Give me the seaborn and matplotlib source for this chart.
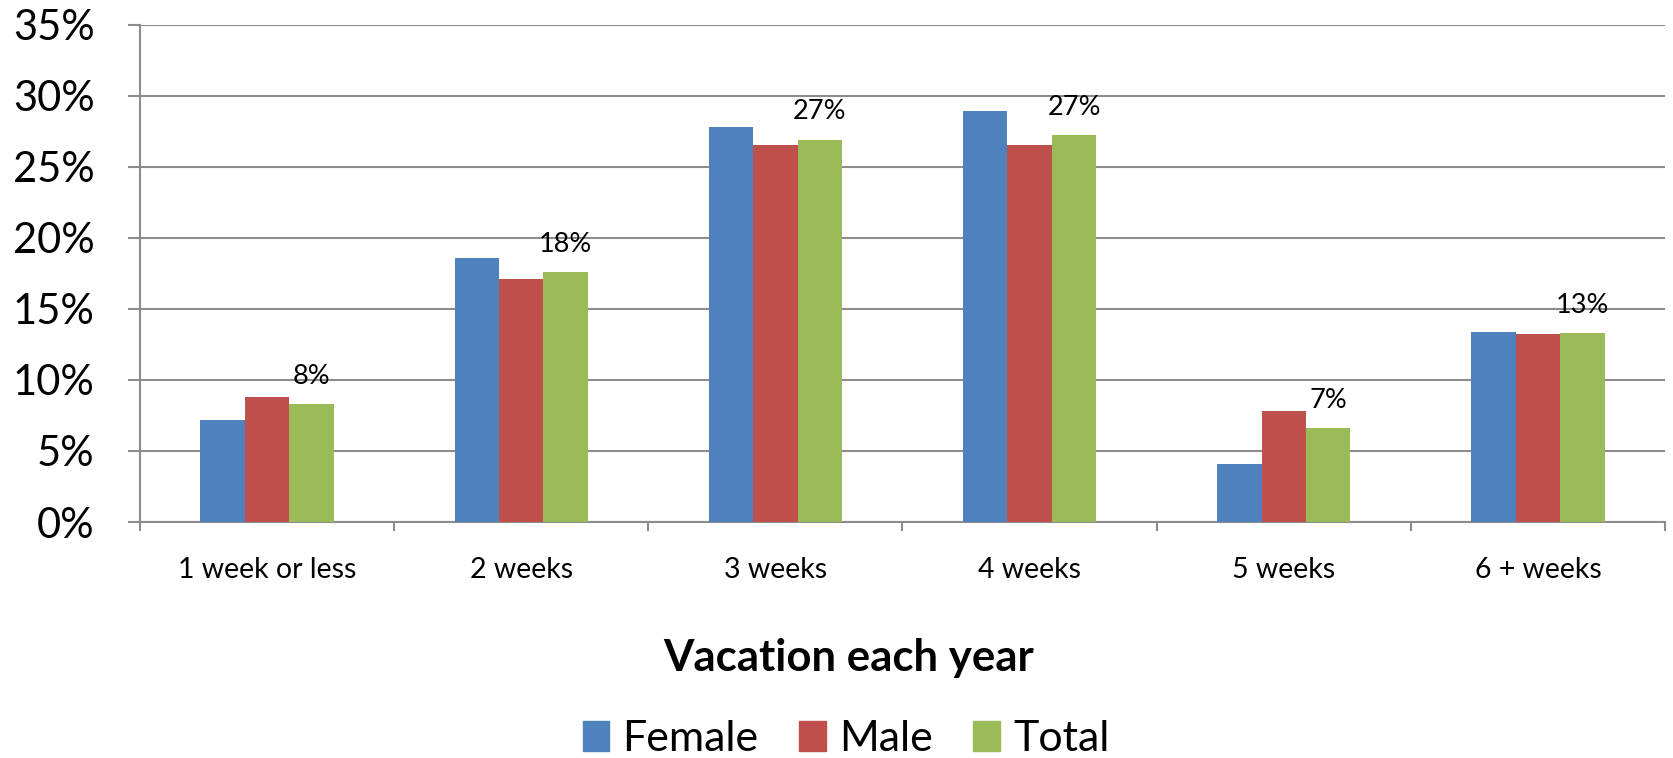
import matplotlib
matplotlib.use("Agg")
import matplotlib.pyplot as plt
import numpy as np
import pandas as pd
import seaborn as sns
from matplotlib.ticker import FixedLocator, PercentFormatter

categories = ["1 week or less", "2 weeks", "3 weeks", "4 weeks", "5 weeks", "6 + weeks"]
female = [7.2, 18.6, 27.8, 28.9, 4.1, 13.4]
male = [8.8, 17.1, 26.5, 26.5, 7.8, 13.2]
total = [8.3, 17.6, 26.9, 27.2, 6.6, 13.3]
series_names = ["Female", "Male", "Total"]
colors = ["#4F81BD", "#C0504D", "#9BBB59"]
y_ticks = [0, 5, 10, 15, 20, 25, 30, 35]

df = pd.DataFrame({
    "category": categories * 3,
    "series": [s for s in series_names for _ in categories],
    "value": female + male + total,
})

sns.set_theme(style="white")
plt.rcParams["font.family"] = ["Lato", "DejaVu Sans"]
plt.rcParams["text.color"] = "black"
plt.rcParams["xtick.color"] = "black"
plt.rcParams["ytick.color"] = "black"

grid_col = "#8C8C8C"
fig = plt.figure(figsize=(16.74, 7.58), dpi=100)
ax = fig.add_axes([140 / 1674, 1 - 522 / 758, (1665 - 140) / 1674, (522 - 24.5) / 758])

sns.barplot(data=df, x="category", y="value", hue="series", order=categories,
            hue_order=series_names, palette=colors, width=0.525, gap=0,
            saturation=1, edgecolor="none", legend=False, ax=ax, zorder=3)

ax.set_ylim(0, 35)
ax.set_xlim(-0.5, len(categories) - 0.5)
ax.yaxis.set_major_locator(FixedLocator(y_ticks))
ax.yaxis.set_major_formatter(PercentFormatter(decimals=0))
ax.grid(axis="y", color=grid_col, linewidth=1.5, zorder=0)
ax.set_axisbelow(True)

for side in ["top", "right"]:
    ax.spines[side].set_visible(False)
for side in ["left", "bottom"]:
    ax.spines[side].set_color(grid_col)
    ax.spines[side].set_linewidth(1.5)

ax.tick_params(axis="y", which="major", direction="out", length=8.6, width=1.5,
               color=grid_col, labelcolor="black", labelsize=30, pad=24, left=True)
ax.tick_params(axis="x", which="major", length=0, labelsize=20.5, labelcolor="black", pad=25)
ax.xaxis.set_minor_locator(FixedLocator(np.arange(-0.5, len(categories), 1.0)))
ax.tick_params(axis="x", which="minor", direction="out", length=6.5, width=1.5,
               color=grid_col, bottom=True)
ax.set_xlabel("")
ax.set_ylabel("")

# value labels above the Total bars
ax.bar_label(ax.containers[2], labels=[f"{v:.0f}%" for v in total],
             padding=11, fontsize=19.5, color="black")

fig.text(849 / 1674, 1 - 658 / 758, "Vacation each year", ha="center", va="center",
         fontsize=31.5, fontweight="bold", color="black")

handles = [plt.Rectangle((0, 0), 1, 1, color=c) for c in colors]
fig.legend(handles, series_names, loc="center", bbox_to_anchor=(846 / 1674, 1 - 739 / 758),
           ncol=3, frameon=False, fontsize=31, handlelength=0.62, handleheight=0.7,
           handletextpad=0.3, columnspacing=0.95, borderaxespad=0, labelcolor="black")

fig.savefig("out.png", dpi=100)
